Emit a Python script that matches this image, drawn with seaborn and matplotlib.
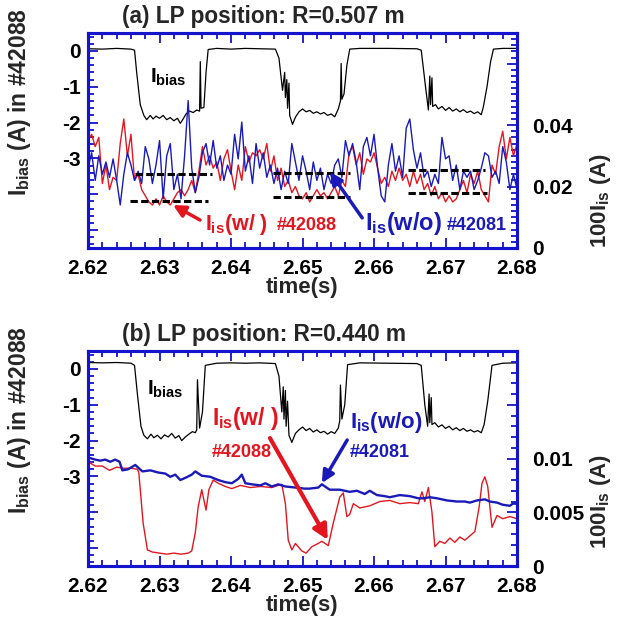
import matplotlib
matplotlib.use("Agg")
import matplotlib.pyplot as plt
import numpy as np
import seaborn as sns

# ---- data ----
# panel (a): LP at R=0.507 m, I_is sampled every 0.5 ms
t_a = np.linspace(2.62, 2.68, 121)
is_red_a = [0.035, 0.037, 0.033, 0.036, 0.021, 0.027, 0.019, 0.023, 0.022, 0.034,
            0.042, 0.030, 0.037, 0.022, 0.024, 0.019, 0.017, 0.015, 0.014, 0.016,
            0.014, 0.017, 0.015, 0.014, 0.016, 0.018, 0.019, 0.017, 0.019, 0.022,
            0.018, 0.025, 0.033, 0.027, 0.030, 0.026, 0.028, 0.022, 0.029, 0.032,
            0.025, 0.019, 0.027, 0.022, 0.033, 0.028, 0.031, 0.030, 0.032, 0.029,
            0.034, 0.025, 0.030, 0.022, 0.026, 0.020, 0.022, 0.018, 0.020, 0.017,
            0.016, 0.018, 0.015, 0.017, 0.019, 0.017, 0.018, 0.016, 0.018, 0.020,
            0.017, 0.022, 0.020, 0.031, 0.033, 0.027, 0.031, 0.024, 0.029, 0.028,
            0.031, 0.026, 0.021, 0.023, 0.020, 0.025, 0.022, 0.026, 0.022, 0.024,
            0.020, 0.025, 0.021, 0.024, 0.019, 0.021, 0.017, 0.020, 0.016, 0.018,
            0.015, 0.017, 0.015, 0.016, 0.019, 0.022, 0.018, 0.024, 0.021, 0.025,
            0.019, 0.017, 0.015, 0.027, 0.024, 0.033, 0.038, 0.029, 0.036, 0.030,
            0.034]
is_blue_a = [0.026, 0.031, 0.022, 0.030, 0.024, 0.028, 0.023, 0.029, 0.022, 0.014,
             0.024, 0.031, 0.027, 0.022, 0.025, 0.021, 0.033, 0.029, 0.021, 0.027,
             0.035, 0.016, 0.030, 0.034, 0.019, 0.024, 0.016, 0.030, 0.048, 0.026,
             0.018, 0.023, 0.031, 0.034, 0.027, 0.035, 0.026, 0.030, 0.022, 0.027,
             0.024, 0.037, 0.029, 0.041, 0.025, 0.030, 0.021, 0.034, 0.026, 0.031,
             0.023, 0.027, 0.021, 0.026, 0.019, 0.025, 0.021, 0.034, 0.028, 0.022,
             0.030, 0.025, 0.019, 0.028, 0.022, 0.026, 0.019, 0.024, 0.021, 0.027,
             0.029, 0.023, 0.035, 0.030, 0.034, 0.028, 0.019, 0.033, 0.036, 0.030,
             0.037, 0.026, 0.017, 0.015, 0.027, 0.034, 0.025, 0.030, 0.023, 0.039,
             0.042, 0.032, 0.026, 0.031, 0.023, 0.025, 0.020, 0.024, 0.021, 0.036,
             0.029, 0.030, 0.022, 0.027, 0.019, 0.025, 0.023, 0.025, 0.019, 0.022,
             0.026, 0.031, 0.030, 0.023, 0.025, 0.021, 0.033, 0.028, 0.019, 0.024,
             0.019]

t_bias_a = [2.6200, 2.6220, 2.6240, 2.6260, 2.6265, 2.6268, 2.6273, 2.6278, 2.6282, 2.6287,
            2.6291, 2.6295, 2.6300, 2.6305, 2.6310, 2.6315, 2.6320, 2.6325, 2.6329, 2.6333,
            2.6337, 2.6342, 2.6347, 2.6352, 2.6356, 2.6357, 2.6358, 2.6362, 2.6365, 2.6368,
            2.6380, 2.6400, 2.6420, 2.6440, 2.6462, 2.6467, 2.6472, 2.6475, 2.6476, 2.6478,
            2.6479, 2.6481, 2.6482, 2.6486, 2.6490, 2.6495, 2.6500, 2.6505, 2.6510, 2.6515,
            2.6520, 2.6525, 2.6530, 2.6535, 2.6540, 2.6545, 2.6550, 2.6553, 2.6554, 2.6555,
            2.6558, 2.6562, 2.6566, 2.6580, 2.6620, 2.6660, 2.6666, 2.6672, 2.6676, 2.6678,
            2.6679, 2.6681, 2.6682, 2.6686, 2.6690, 2.6695, 2.6700, 2.6705, 2.6710, 2.6715,
            2.6720, 2.6725, 2.6730, 2.6735, 2.6740, 2.6745, 2.6750, 2.6753, 2.6758, 2.6763,
            2.6767, 2.6780, 2.6800]
bias_a = [0.06, 0.05, 0.07, 0.05, 0.02, -0.60, -1.50, -1.80, -1.92, -1.80,
          -1.90, -1.82, -1.88, -1.80, -1.92, -1.86, -1.95, -1.88, -2.02, -1.90,
          -1.76, -1.68, -1.72, -1.65, -1.68, -0.30, -1.60, -1.58, -0.60, 0.04,
          0.07, 0.05, 0.07, 0.06, 0.05, -0.20, -1.10, -0.60, -1.30, -0.80,
          -1.60, -0.90, -1.80, -2.05, -1.85, -1.70, -1.62, -1.70, -1.66, -1.74,
          -1.70, -1.76, -1.72, -1.80, -1.76, -1.84, -1.62, -1.40, -0.35, -1.35,
          -1.20, -0.40, 0.05, 0.07, 0.07, 0.06, 0.02, -1.00, -1.65, -0.70,
          -1.50, -0.75, -1.55, -1.50, -1.62, -1.55, -1.66, -1.58, -1.68, -1.62,
          -1.70, -1.64, -1.72, -1.68, -1.75, -1.70, -1.78, -1.55, -1.00, -0.30,
          0.05, 0.07, 0.07]

# average levels (dashed), in 100*I_is units
dash_t0 = [2.6266, 2.6259, 2.6459, 2.6459, 2.6648, 2.6648]
dash_t1 = [2.6373, 2.6368, 2.6566, 2.6566, 2.6755, 2.6758]
dash_val = [0.0240, 0.0153, 0.0244, 0.0167, 0.0254, 0.0179]

# panel (b): LP at R=0.440 m
t_blue_b = [2.6200, 2.6210, 2.6217, 2.6224, 2.6231, 2.6238, 2.6244, 2.6248, 2.6256, 2.6266,
            2.6276, 2.6287, 2.6298, 2.6308, 2.6315, 2.6322, 2.6329, 2.6336, 2.6345, 2.6350,
            2.6359, 2.6371, 2.6382, 2.6392, 2.6401, 2.6410, 2.6415, 2.6420, 2.6429, 2.6441,
            2.6448, 2.6457, 2.6466, 2.6476, 2.6490, 2.6503, 2.6510, 2.6522, 2.6527, 2.6538,
            2.6552, 2.6566, 2.6576, 2.6587, 2.6594, 2.6604, 2.6615, 2.6622, 2.6636, 2.6650,
            2.6662, 2.6669, 2.6678, 2.6688, 2.6702, 2.6716, 2.6727, 2.6734, 2.6744, 2.6755,
            2.6762, 2.6772, 2.6780, 2.6790, 2.6794, 2.6800]
is_blue_b = [0.0101, 0.0099, 0.0098, 0.0099, 0.0097, 0.0099, 0.0097, 0.0089, 0.0090, 0.0094,
             0.0088, 0.0089, 0.0087, 0.0086, 0.0083, 0.0085, 0.0080, 0.0082, 0.0085, 0.0088,
             0.0084, 0.0083, 0.0080, 0.0078, 0.0077, 0.0081, 0.0085, 0.0077, 0.0076, 0.0075,
             0.0077, 0.0074, 0.0076, 0.0074, 0.0073, 0.0072, 0.0072, 0.0073, 0.0076, 0.0071,
             0.0071, 0.0069, 0.0070, 0.0067, 0.0070, 0.0066, 0.0065, 0.0064, 0.0066, 0.0065,
             0.0063, 0.0063, 0.0064, 0.0063, 0.0061, 0.0060, 0.0060, 0.0059, 0.0061, 0.0062,
             0.0060, 0.0059, 0.0057, 0.0056, 0.0058, 0.0058]

t_red_b = [2.6200, 2.6210, 2.6220, 2.6230, 2.6240, 2.6250, 2.6260, 2.6269, 2.6271, 2.6277,
           2.6283, 2.6290, 2.6300, 2.6310, 2.6320, 2.6330, 2.6340, 2.6345, 2.6350, 2.6354,
           2.6359, 2.6365, 2.6369, 2.6375, 2.6382, 2.6392, 2.6401, 2.6413, 2.6427, 2.6441,
           2.6457, 2.6466, 2.6471, 2.6476, 2.6480, 2.6485, 2.6490, 2.6499, 2.6505, 2.6513,
           2.6522, 2.6527, 2.6536, 2.6543, 2.6552, 2.6557, 2.6562, 2.6566, 2.6571, 2.6580,
           2.6594, 2.6608, 2.6622, 2.6636, 2.6650, 2.6662, 2.6667, 2.6671, 2.6676, 2.6681,
           2.6685, 2.6692, 2.6699, 2.6706, 2.6713, 2.6720, 2.6727, 2.6734, 2.6741, 2.6747,
           2.6751, 2.6755, 2.6759, 2.6765, 2.6772, 2.6780, 2.6790, 2.6800]
is_red_b = [0.0097, 0.0093, 0.0093, 0.0089, 0.0092, 0.0091, 0.0091, 0.0090, 0.0087, 0.0040,
            0.0015, 0.0013, 0.0012, 0.0011, 0.0012, 0.0011, 0.0012, 0.0014, 0.0031, 0.0055,
            0.0071, 0.0052, 0.0071, 0.0080, 0.0077, 0.0074, 0.0072, 0.0075, 0.0073, 0.0074,
            0.0073, 0.0075, 0.0076, 0.0058, 0.0024, 0.0015, 0.0021, 0.0014, 0.0012, 0.0018,
            0.0021, 0.0023, 0.0019, 0.0040, 0.0064, 0.0068, 0.0046, 0.0048, 0.0058, 0.0054,
            0.0056, 0.0060, 0.0061, 0.0058, 0.0059, 0.0058, 0.0069, 0.0060, 0.0073, 0.0050,
            0.0018, 0.0023, 0.0021, 0.0026, 0.0022, 0.0027, 0.0024, 0.0028, 0.0032, 0.0055,
            0.0077, 0.0083, 0.0074, 0.0036, 0.0047, 0.0044, 0.0046, 0.0044]

t_bias_b = [2.6200, 2.6220, 2.6240, 2.6260, 2.6265, 2.6269, 2.6274, 2.6278, 2.6283, 2.6288,
            2.6292, 2.6297, 2.6302, 2.6307, 2.6312, 2.6317, 2.6322, 2.6327, 2.6331, 2.6336,
            2.6341, 2.6346, 2.6350, 2.6352, 2.6353, 2.6356, 2.6360, 2.6364, 2.6380, 2.6400,
            2.6420, 2.6440, 2.6462, 2.6467, 2.6471, 2.6473, 2.6474, 2.6476, 2.6477, 2.6479,
            2.6481, 2.6485, 2.6490, 2.6495, 2.6500, 2.6505, 2.6510, 2.6515, 2.6520, 2.6525,
            2.6530, 2.6535, 2.6540, 2.6545, 2.6550, 2.6552, 2.6553, 2.6555, 2.6559, 2.6563,
            2.6580, 2.6620, 2.6660, 2.6666, 2.6671, 2.6675, 2.6677, 2.6678, 2.6680, 2.6681,
            2.6685, 2.6690, 2.6695, 2.6700, 2.6705, 2.6710, 2.6715, 2.6720, 2.6725, 2.6730,
            2.6735, 2.6740, 2.6745, 2.6750, 2.6754, 2.6759, 2.6765, 2.6780, 2.6800]
bias_b = [0.18, 0.17, 0.18, 0.16, 0.10, -0.70, -1.60, -1.85, -1.95, -1.82,
          -1.92, -1.85, -1.95, -1.84, -1.90, -1.80, -1.93, -1.86, -2.00, -1.90,
          -1.82, -1.75, -1.78, -1.70, -0.30, -1.65, -1.20, 0.10, 0.16, 0.17,
          0.16, 0.17, 0.15, -0.20, -1.20, -0.50, -1.40, -0.60, -1.60, -0.90,
          -1.85, -2.05, -1.80, -1.70, -1.62, -1.72, -1.66, -1.76, -1.70, -1.78,
          -1.74, -1.82, -1.75, -1.80, -1.65, -1.45, -0.45, -1.40, -1.00, 0.12,
          0.17, 0.16, 0.15, 0.10, -1.00, -1.60, -0.70, -1.50, -0.80, -1.55,
          -1.50, -1.62, -1.56, -1.66, -1.60, -1.70, -1.64, -1.72, -1.66, -1.74,
          -1.70, -1.76, -1.72, -1.78, -1.55, -0.90, 0.10, 0.16, 0.17]

# ---- style ----
sns.set_style("white")
plt.rcParams['font.family'] = ['Liberation Sans', 'DejaVu Sans']
plt.rcParams['font.weight'] = 'bold'
plt.rcParams['mathtext.fontset'] = 'custom'
plt.rcParams['mathtext.rm'] = 'Liberation Sans:bold'
plt.rcParams['mathtext.it'] = 'Liberation Sans:bold'
plt.rcParams['mathtext.bf'] = 'Liberation Sans:bold'
plt.rcParams['axes.unicode_minus'] = False

RED = '#e3161f'
BLUE = '#1a1ab8'
FRAME = '#1414cc'

fig = plt.figure(figsize=(6.29, 6.19), dpi=100)
ax_a = fig.add_axes([0.140, 0.5994, 0.682, 0.3473])
ax_b = fig.add_axes([0.140, 0.0856, 0.682, 0.3473])


def style_panel(ax, tw, right_lim, right_major, right_labels, right_minor, title, rlab_y):
    ax.set_xlim(2.62, 2.68)
    ax.set_ylim(-5.5, 0.5)
    ax.set_xticks([2.62, 2.63, 2.64, 2.65, 2.66, 2.67, 2.68])
    ax.set_xticklabels(['2.62', '2.63', '2.64', '2.65', '2.66', '2.67', '2.68'])
    ax.set_xticks(np.arange(2.62, 2.6801, 0.002), minor=True)
    ax.set_yticks([-5, -4, -3, -2, -1, 0])
    ax.set_yticklabels(['', '', '-3', '-2', '-1', '0'])
    ax.set_yticks(np.arange(-5.4, 0.5, 0.2), minor=True)
    ax.tick_params(which='both', direction='in', color=FRAME, width=1.3,
                   top=True, bottom=True, left=True, right=False,
                   labelsize=15, labelcolor='black', pad=5)
    ax.tick_params(axis='x', which='both', pad=8)
    ax.tick_params(which='major', length=7)
    ax.tick_params(which='minor', length=4)
    ax.set_xlabel('time(s)', fontsize=16, fontweight='bold', labelpad=-1)
    ax.set_ylabel(r'$I_{bias}$ (A) in #42088', fontsize=16.5, fontweight='bold')
    ax.yaxis.set_label_coords(-0.128, 0.68)

    tw.set_ylim(*right_lim)
    tw.set_yticks(right_major)
    tw.set_yticklabels(right_labels)
    tw.set_yticks(right_minor, minor=True)
    tw.tick_params(which='both', direction='in', color=FRAME, width=1.3,
                   right=True, left=False, labelsize=15, labelcolor='black', pad=11)
    tw.tick_params(which='major', length=7)
    tw.tick_params(which='minor', length=4)
    tw.set_ylabel(r'100$I_{is}$ (A)', fontsize=16, fontweight='bold')
    tw.yaxis.set_label_coords(1.166, rlab_y)

    for a in (ax, tw):
        for sp in a.spines.values():
            sp.set_color(FRAME)
            sp.set_linewidth(2.2)
    ax.text(0.079, 1.045, title, transform=ax.transAxes, fontsize=16.3,
            fontweight='bold', ha='left', va='baseline')


# ---- panel (a) ----
tw_a = ax_a.twinx()
sns.lineplot(x=t_bias_a, y=bias_a, ax=ax_a, color='black', linewidth=0.9, estimator=None, sort=False)
sns.lineplot(x=t_a, y=is_red_a, ax=tw_a, color=RED, linewidth=1.0, estimator=None, sort=False)
sns.lineplot(x=t_a, y=is_blue_a, ax=tw_a, color=BLUE, linewidth=1.0, estimator=None, sort=False)
tw_a.hlines(dash_val, dash_t0, dash_t1, colors='black', linestyles=(0, (2.4, 1.1)), linewidth=2.2)
style_panel(ax_a, tw_a, (0, 0.07), [0, 0.02, 0.04, 0.06], ['0', '0.02', '0.04', ''],
            np.arange(0, 0.0701, 0.002), '(a) LP position: R=0.507 m', 0.22)

ax_a.text(0.1445, 0.767, r'$I_{bias}$', transform=ax_a.transAxes, fontsize=15,
          color='black', va='baseline')
ax_a.text(0.273, 0.084, r'$I_{is}$(w/ )', transform=ax_a.transAxes, fontsize=15.5,
          color=RED, va='baseline')
ax_a.text(0.440, 0.084, '#42088', transform=ax_a.transAxes, fontsize=13,
          color=RED, va='baseline')
ax_a.text(0.646, 0.084, r'$I_{is}$(w/o)', transform=ax_a.transAxes, fontsize=17,
          color=BLUE, va='baseline')
ax_a.text(0.837, 0.084, '#42081', transform=ax_a.transAxes, fontsize=13,
          color=BLUE, va='baseline')
tw_a.annotate('', xy=(0.198, 0.200), xytext=(0.261, 0.130), xycoords='axes fraction',
              arrowprops=dict(arrowstyle='-|>', color=RED, lw=2.5, mutation_scale=18,
                              shrinkA=0, shrinkB=0))
tw_a.annotate('', xy=(0.564, 0.353), xytext=(0.639, 0.140), xycoords='axes fraction',
              arrowprops=dict(arrowstyle='-|>', color=BLUE, lw=2.5, mutation_scale=18,
                              shrinkA=0, shrinkB=0))

# ---- panel (b) ----
tw_b = ax_b.twinx()
sns.lineplot(x=t_bias_b, y=bias_b, ax=ax_b, color='black', linewidth=0.9, estimator=None, sort=False)
sns.lineplot(x=t_red_b, y=is_red_b, ax=tw_b, color=RED, linewidth=1.0, estimator=None, sort=False)
sns.lineplot(x=t_blue_b, y=is_blue_b, ax=tw_b, color=BLUE, linewidth=1.7, estimator=None, sort=False)
style_panel(ax_b, tw_b, (0, 0.02), [0, 0.005, 0.01, 0.015, 0.02], ['0', '0.005', '0.01', '', ''],
            np.arange(0, 0.0201, 0.001), '(b) LP position: R=0.440 m', 0.30)

ax_b.text(0.1375, 0.795, r'$I_{bias}$', transform=ax_b.transAxes, fontsize=15,
          color='black', va='baseline')
ax_b.text(0.289, 0.656, r'$I_{is}$(w/ )', transform=ax_b.transAxes, fontsize=16.5,
          color=RED, va='baseline')
ax_b.text(0.289, 0.507, '#42088', transform=ax_b.transAxes, fontsize=13,
          color=RED, va='baseline')
ax_b.text(0.611, 0.642, r'$I_{is}$(w/o)', transform=ax_b.transAxes, fontsize=16,
          color=BLUE, va='baseline')
ax_b.text(0.611, 0.507, '#42081', transform=ax_b.transAxes, fontsize=13,
          color=BLUE, va='baseline')
tw_b.annotate('', xy=(0.559, 0.121), xytext=(0.424, 0.595), xycoords='axes fraction',
              arrowprops=dict(arrowstyle='-|>', color=RED, lw=3, mutation_scale=22,
                              shrinkA=0, shrinkB=0))
tw_b.annotate('', xy=(0.545, 0.386), xytext=(0.604, 0.586), xycoords='axes fraction',
              arrowprops=dict(arrowstyle='-|>', color=BLUE, lw=2.5, mutation_scale=18,
                              shrinkA=0, shrinkB=0))

fig.savefig('out.png', dpi=100)
